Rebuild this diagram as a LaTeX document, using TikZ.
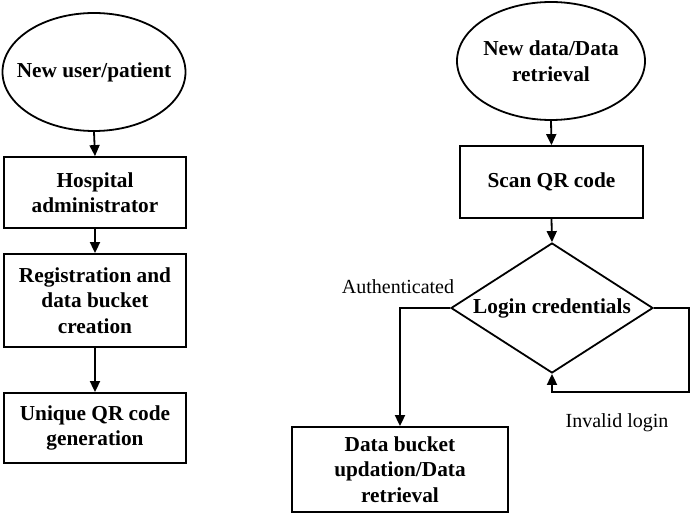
\documentclass[tikz,border=0pt]{standalone}
\usepackage{fontspec}
\setmainfont{Liberation Serif}
\usetikzlibrary{shapes.geometric,arrows.meta}
\tikzset{
  base/.style={draw, line width=1.8pt, align=center, font=\fontsize{21.3}{25.5}\selectfont\bfseries, inner sep=0pt},
  oval/.style={base, ellipse, inner xsep=-25pt},
  stepbox/.style={base, rectangle},
  decide/.style={base, diamond, aspect=1.6},
  conn/.style={line width=1.8pt, -{Triangle[length=11pt,width=10pt]}},
  lbl/.style={font=\fontsize{20}{24}\selectfont, inner sep=0pt}
}
\begin{document}
\begin{tikzpicture}[x=1pt,y=-1pt]
\useasboundingbox (0,0) rectangle (699,518);
\node[oval, minimum width=183pt, minimum height=118pt] (e1) at (94,72) {New user/patient};
\node[stepbox, minimum width=182pt, minimum height=71pt] (b1) at (95,192.5) {Hospital\\administrator};
\node[stepbox, minimum width=182pt, minimum height=93pt] (b2) at (95,300.5) {Registration and\\data bucket\\creation};
\node[stepbox, minimum width=182pt, minimum height=70pt] (b3) at (95,428) {Unique QR code\\generation};
\draw[conn] (e1.south) -- (b1.north);
\draw[conn] (b1.south) -- (b2.north);
\draw[conn] (b2.south) -- (b3.north);

\node[oval, minimum width=188pt, minimum height=118pt] (e2) at (551,61) {New data/Data\\retrieval};
\node[stepbox, minimum width=183pt, minimum height=72pt] (b4) at (551.5,182) {Scan QR code};
\node[decide, minimum width=202pt, minimum height=130pt] (d) at (552,308) {Login credentials};
\node[stepbox, minimum width=216pt, minimum height=85pt] (b5) at (400,469.5) {Data bucket\\updation/Data\\retrieval};
\coordinate (r1) at (689,392);
\draw[conn] (e2.south) -- (b4.north);
\draw[conn] (b4.south) -- (d.north);
\draw[conn] (d.west) -| (b5.north);
\draw[conn] (d.east) -| (r1) -| (d.south);
\node[lbl] (la) at (398,287) {Authenticated};
\node[lbl] (lb) at (617,423) {Invalid login};
\end{tikzpicture}
\end{document}
